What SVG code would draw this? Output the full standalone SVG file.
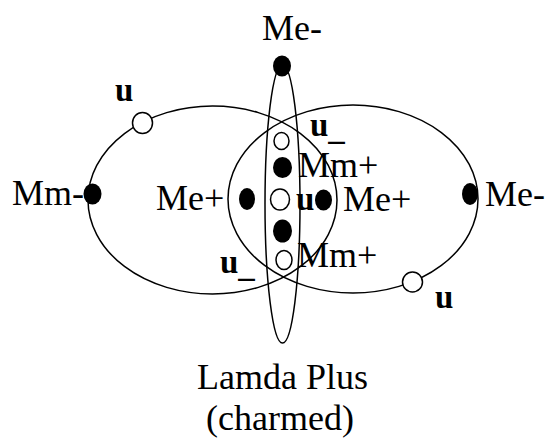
<svg xmlns="http://www.w3.org/2000/svg" width="548" height="444" viewBox="0 0 548 444">
<style>
.orb{fill:none;stroke:#000;stroke-width:1.5}
.fd{fill:#000}
.od{fill:#fff;stroke:#000;stroke-width:1.5}
text{font-family:"Liberation Serif","Times New Roman",serif;font-size:36px;fill:#000}
.b{font-weight:bold;font-size:33px}
</style>
<rect width="548" height="444" fill="#fff"/>
<g id="connectors">
<ellipse class="orb" cx="212.5" cy="200" rx="124.5" ry="94"/>
<ellipse class="orb" cx="353" cy="199" rx="125" ry="94"/>
<ellipse class="orb" cx="282.5" cy="204" rx="17.5" ry="139"/>
</g>
<g id="top-me">
<ellipse class="fd" cx="282" cy="66" rx="9" ry="10.5"/>
<text x="262" y="40">Me-</text>
</g>
<g id="left-u">
<ellipse class="od" cx="142.5" cy="123" rx="10" ry="10.5"/>
<text class="b" x="115" y="101">u</text>
</g>
<g id="left-mm">
<ellipse class="fd" cx="92.5" cy="194" rx="9" ry="10.5"/>
<text x="12" y="205">Mm-</text>
</g>
<g id="right-me">
<ellipse class="fd" cx="470" cy="194" rx="8" ry="11"/>
<text x="485" y="206">Me-</text>
</g>
<g id="right-u">
<ellipse class="od" cx="412.5" cy="282" rx="10" ry="10"/>
<text class="b" x="435" y="308">u</text>
</g>
<g id="inner-left-me">
<ellipse class="fd" cx="247" cy="199" rx="8" ry="11"/>
<text x="156" y="210">Me+</text>
</g>
<g id="inner-right-me">
<ellipse class="fd" cx="323.5" cy="200" rx="8.5" ry="10.5"/>
<text x="343" y="211">Me+</text>
</g>
<g id="col-top-u">
<ellipse class="od" cx="281.5" cy="141" rx="7.5" ry="8.5"/>
<text class="b" x="310" y="136">u<tspan dy="3">_</tspan></text>
</g>
<g id="col-top-mm">
<ellipse class="fd" cx="282.5" cy="167.5" rx="9.5" ry="10.5"/>
<text x="298" y="177">Mm+</text>
</g>
<g id="col-mid-u">
<ellipse class="od" cx="280" cy="199.5" rx="9.5" ry="10.5"/>
<text class="b" x="296" y="210">u</text>
</g>
<g id="col-bot-mm">
<ellipse class="fd" cx="282.5" cy="231" rx="9.5" ry="11.5"/>
<text x="297" y="267">Mm+</text>
</g>
<g id="col-bot-u">
<ellipse class="od" cx="284" cy="260" rx="8" ry="9.5"/>
<text class="b" x="220" y="273">u<tspan dy="3">_</tspan></text>
</g>
<g id="caption">
<text x="282.5" y="389" text-anchor="middle">Lamda Plus</text>
<text x="280" y="430" text-anchor="middle">(charmed)</text>
</g>
</svg>
